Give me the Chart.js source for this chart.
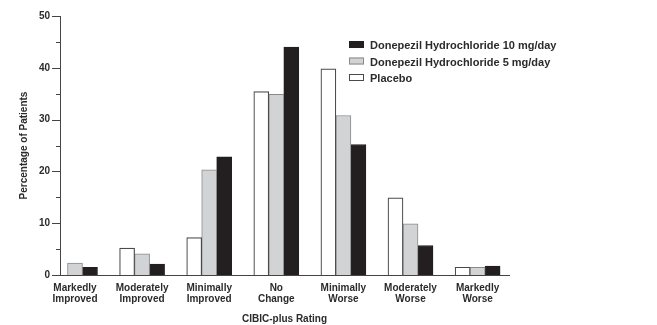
<!DOCTYPE html>
<html>
<head>
<meta charset="utf-8">
<script src="https://cdn.jsdelivr.net/npm/chart.js@4.4.0/dist/chart.umd.min.js"></script>
<style>
  html, body { margin: 0; padding: 0; background: #fff; }
  #wrap { width: 657px; height: 325px; position: relative; }
</style>
</head>
<body>
<div id="wrap"><canvas id="chart"></canvas></div>
<script>
const categories = [
  ['Markedly', 'Improved'],
  ['Moderately', 'Improved'],
  ['Minimally', 'Improved'],
  ['No', 'Change'],
  ['Minimally', 'Worse'],
  ['Moderately', 'Worse'],
  ['Markedly', 'Worse']
];
const placebo = [null, 5.2, 7.2, 35.4, 39.8, 14.9, 1.5];
const dose5 = [2.3, 4.1, 20.3, 34.9, 30.8, 9.9, 1.5];
const dose10 = [1.5, 2.1, 22.8, 44.0, 25.2, 5.7, 1.7];
const yTicks = [0, 10, 20, 30, 40, 50];

const textColor = '#2b2b2b';
const axisColor = '#444';
const font = 'Arial, "Liberation Sans", Helvetica, sans-serif';

function points(arr) {
  return arr.map((v, i) => ({ x: i, y: v }));
}

// legend drawn in the upper right of the plot, 10 mg first
const legendBox = {
  id: 'legendBox',
  afterDraw(chart) {
    const ctx = chart.ctx;
    const sets = chart.data.datasets.slice().reverse();
    ctx.save();
    ctx.font = 'bold 11px ' + font;
    ctx.textBaseline = 'middle';
    sets.forEach((ds, i) => {
      const y = 45 + i * 16.5;
      ctx.fillStyle = ds.backgroundColor;
      ctx.fillRect(349, y - 4, 15, 7);
      ctx.strokeStyle = ds.borderColor;
      ctx.lineWidth = 1;
      ctx.strokeRect(349.5, y - 3.5, 14, 6);
      ctx.fillStyle = textColor;
      ctx.fillText(ds.label, 370, y + 1);
    });
    ctx.restore();
  }
};

// y tick marks: long at 10s, short at 5s
const yTickMarks = {
  id: 'yTickMarks',
  afterDraw(chart) {
    const ctx = chart.ctx;
    const y = chart.scales.y;
    const left = chart.chartArea.left;
    ctx.save();
    ctx.strokeStyle = axisColor;
    ctx.lineWidth = 1;
    for (let v = 0; v <= 50; v += 5) {
      const py = Math.round(y.getPixelForValue(v)) + 0.5;
      const len = v % 10 === 0 ? 8 : 4;
      ctx.beginPath();
      ctx.moveTo(left - len, py);
      ctx.lineTo(left, py);
      ctx.stroke();
    }
    ctx.restore();
  }
};

new Chart(document.getElementById('chart'), {
  type: 'bar',
  data: {
    datasets: [
      {
        label: 'Placebo',
        data: points(placebo),
        backgroundColor: '#ffffff',
        borderColor: '#4a4a4a',
        borderWidth: 1.2
      },
      {
        label: 'Donepezil Hydrochloride 5 mg/day',
        data: points(dose5),
        backgroundColor: '#d2d3d5',
        borderColor: '#8a8a8a',
        borderWidth: 1
      },
      {
        label: 'Donepezil Hydrochloride 10 mg/day',
        data: points(dose10),
        backgroundColor: '#231f20',
        borderColor: '#231f20',
        borderWidth: 1
      }
    ]
  },
  options: {
    responsive: true,
    maintainAspectRatio: false,
    animation: false,
    barThickness: 15,
    layout: { padding: { left: 0, right: 148, top: 10, bottom: 0 } },
    plugins: {
      legend: { display: false },
      tooltip: { enabled: false }
    },
    scales: {
      x: {
        type: 'linear',
        min: -0.2235,
        max: 6.468,
        offset: false,
        grid: { display: false, drawTicks: false },
        border: { display: true, color: axisColor, width: 1 },
        afterBuildTicks(scale) {
          scale.ticks = categories.map((c, i) => ({ value: i }));
        },
        ticks: {
          autoSkip: false,
          maxRotation: 0,
          padding: 8,
          color: textColor,
          font: { family: font, size: 10, weight: 'bold', lineHeight: 1.1 },
          callback: (v) => categories[v]
        },
        title: {
          display: true,
          text: 'CIBIC-plus Rating',
          color: textColor,
          font: { family: font, size: 10, weight: 'bold' },
          padding: { top: 0, bottom: 0 }
        }
      },
      y: {
        min: 0,
        max: 50,
        afterFit(scale) { scale.width = 60; },
        afterBuildTicks(scale) {
          scale.ticks = yTicks.map(v => ({ value: v }));
        },
        grid: { display: false, drawTicks: false },
        border: { display: true, color: axisColor, width: 1 },
        ticks: {
          padding: 10,
          color: textColor,
          font: { family: font, size: 10, weight: 'bold' }
        },
        title: {
          display: true,
          text: 'Percentage of Patients',
          color: textColor,
          font: { family: font, size: 10, weight: 'bold' },
          padding: { top: 18, bottom: 0 }
        }
      }
    }
  },
  plugins: [legendBox, yTickMarks]
});
</script>
</body>
</html>
